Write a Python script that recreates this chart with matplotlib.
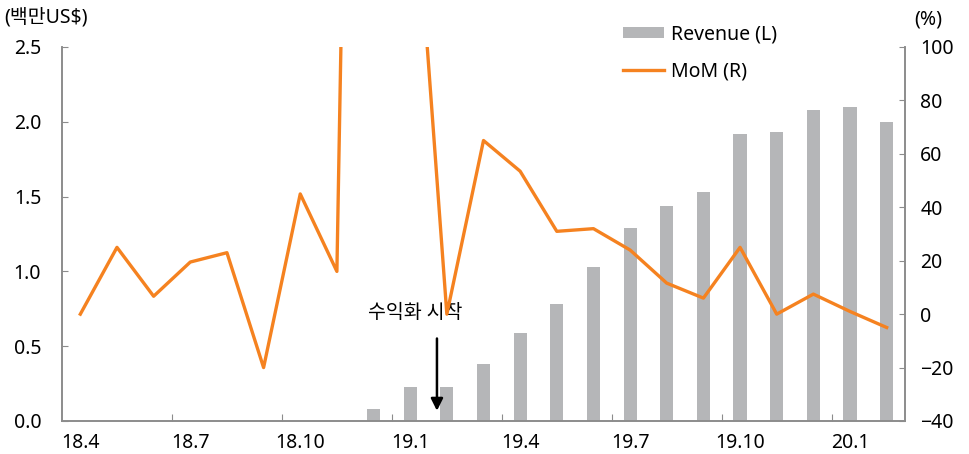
import numpy as np
import matplotlib
matplotlib.use("Agg")
import matplotlib.pyplot as plt

plt.rcParams['font.family'] = ['Noto Sans', 'Noto Sans CJK KR', 'DejaVu Sans']

months = ['18.4', '18.5', '18.6', '18.7', '18.8', '18.9', '18.10', '18.11', '18.12',
          '19.1', '19.2', '19.3', '19.4', '19.5', '19.6', '19.7', '19.8', '19.9',
          '19.10', '19.11', '19.12', '20.1', '20.2']
# 매출 (백만US$)
revenue = [0, 0, 0, 0, 0, 0, 0, 0, 0.08,
           0.23, 0.23, 0.38, 0.59, 0.78, 1.03, 1.29, 1.44, 1.53,
           1.92, 1.93, 2.08, 2.10, 2.00]
# MoM (%)
mom = [0, 25, 6.7, 19.5, 23, -20, 45, 16, 786,
       187, 0, 65, 53.5, 31, 32, 24, 11.6, 6,
       25, 0, 7.5, 1, -5]
label_every = 3
start_idx = 10  # 수익화 시작 (19.2)

bar_color = '#b5b6b8'
line_color = '#f58220'
spine_color = '#8c8c8c'
fs = 14

fig = plt.figure(figsize=(9.7, 4.54), dpi=100)
ax = fig.add_axes([62/970, 33/454, 843/970, 374/454])
ax2 = ax.twinx()

x = np.arange(len(months))
b = ax.bar(x, revenue, width=0.36, color=bar_color, label='Revenue (L)', zorder=2)
l, = ax2.plot(x, mom, color=line_color, lw=2.4, label='MoM (R)', zorder=3)

ax.set_xlim(-0.5, len(months) - 0.5)
ax.set_ylim(0, 2.5)
ax2.set_ylim(-40, 100)
ax.set_yticks(np.arange(0, 2.51, 0.5))
ax.set_yticklabels([f'{v:.1f}' for v in np.arange(0, 2.51, 0.5)])
ax2.set_yticks(np.arange(-40, 101, 20))
ax2.set_yticklabels([str(v).replace('-', '\u2212') for v in range(-40, 101, 20)])

# 눈금은 구간 경계, 라벨은 가운데
ax.set_xticks(np.arange(label_every - 0.5, len(months) - 1, label_every))
ax.set_xticklabels([])
ax.set_xticks(x[::label_every], minor=True)
ax.set_xticklabels(months[::label_every], minor=True)
ax.tick_params(axis='x', which='major', direction='in', length=5, color=spine_color)
ax.tick_params(axis='x', which='minor', length=0, pad=9, labelsize=fs)
ax.tick_params(axis='y', direction='in', length=4, color=spine_color, pad=15, labelsize=fs)
ax2.tick_params(axis='y', direction='in', length=4, color=spine_color, pad=11, labelsize=fs)

for a in (ax, ax2):
    a.spines['top'].set_visible(False)
    for s in ('left', 'right', 'bottom'):
        a.spines[s].set_color(spine_color)
        a.spines[s].set_linewidth(1.2)

fig.text(4/970, 1 - 17/454, '(백만US$)', fontsize=fs, va='center', ha='left')
fig.text(928/970, 1 - 20/454, '(%)', fontsize=fs, va='center', ha='center')

ax.text(start_idx - 0.87, 0.72, '수익화 시작', fontsize=fs, ha='center', va='center')
ax.annotate('', xy=(start_idx - 0.27, 0.05), xytext=(start_idx - 0.27, 0.57),
            arrowprops=dict(arrowstyle='-|>', color='black', lw=1.8, mutation_scale=18))

fig.legend([b, l], ['Revenue (L)', 'MoM (R)'], loc='upper left',
           bbox_to_anchor=(606/970, 1 - 7/454), frameon=False, fontsize=fs,
           labelspacing=0.85, handlelength=2.1, handleheight=0.45, handletextpad=0.35)

fig.savefig('out.png', dpi=100)
